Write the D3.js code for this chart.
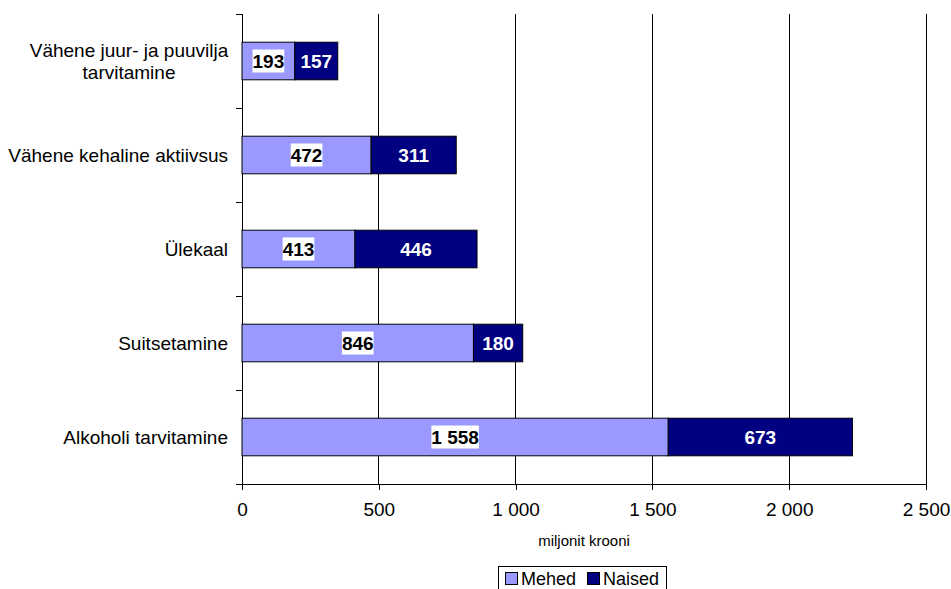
<!DOCTYPE html>
<html>
<head>
<meta charset="utf-8">
<script src="https://cdn.jsdelivr.net/npm/d3@7"></script>
<style>
  html, body { margin: 0; padding: 0; background: #fff; }
  svg { display: block; font-family: "Liberation Sans", Arial, sans-serif; }
</style>
</head>
<body>
<svg id="chart" width="951" height="589"></svg>
<script>
// Risk factors and the cost attributed to each, by sex
const categories = [
  ["Vähene juur- ja puuvilja", "tarvitamine"],
  ["Vähene kehaline aktiivsus"],
  ["Ülekaal"],
  ["Suitsetamine"],
  ["Alkoholi tarvitamine"]
];
const mehed = [193, 472, 413, 846, 1558];
const naised = [157, 311, 446, 180, 673];
const seriesNames = ["Mehed", "Naised"];
const xTicks = [0, 500, 1000, 1500, 2000, 2500];
const axisTitle = "miljonit krooni";

const colors = ["#9999FF", "#000080"];
const FS = 19;

const svg = d3.select("#chart");
const plotL = 242, plotR = 926, plotT = 14, plotB = 484;

const x = d3.scaleLinear().domain([0, 2500]).range([plotL, plotR]);
const y = d3.scaleBand().domain(d3.range(categories.length)).range([plotT, plotB]).paddingInner(0.6).paddingOuter(0.3);
const yOuter = d3.scaleBand().domain(d3.range(categories.length)).range([plotT, plotB]);

const fmt = v => d3.format(",")(v).replace(/,/g, " ");

// vertical gridlines
svg.append("g").selectAll("line")
  .data(xTicks.slice(1))
  .join("line")
  .attr("x1", d => x(d)).attr("x2", d => x(d))
  .attr("y1", plotT).attr("y2", plotB)
  .attr("stroke", "#000").attr("stroke-width", 1)
  .attr("shape-rendering", "crispEdges");

// bottom axis
const xAxis = d3.axisBottom(x).tickValues(xTicks).tickFormat(fmt).tickSizeInner(6).tickSizeOuter(0).tickPadding(13);
const gx = svg.append("g").attr("transform", `translate(0,${plotB})`).call(xAxis);
gx.attr("font-size", null).attr("font-family", null);
gx.selectAll("text").attr("font-size", FS).attr("fill", "#000");
gx.selectAll("line, path").attr("stroke", "#000").attr("shape-rendering", "crispEdges");

// left axis with ticks between categories
const yTickPos = d3.range(categories.length + 1).map(i => plotT + i * yOuter.step());
svg.append("line")
  .attr("x1", plotL).attr("x2", plotL).attr("y1", plotT).attr("y2", plotB)
  .attr("stroke", "#000").attr("shape-rendering", "crispEdges");
svg.append("g").selectAll("line")
  .data(yTickPos)
  .join("line")
  .attr("x1", plotL - 6).attr("x2", plotL)
  .attr("y1", d => d).attr("y2", d => d)
  .attr("stroke", "#000").attr("shape-rendering", "crispEdges");

// category labels
const catG = svg.append("g");
categories.forEach((lines, i) => {
  const cy = yOuter(i) + yOuter.bandwidth() / 2;
  if (lines.length === 1) {
    catG.append("text")
      .attr("x", 228).attr("y", cy).attr("dy", "0.35em")
      .attr("text-anchor", "end").attr("font-size", FS)
      .text(lines[0]);
  } else {
    const t = catG.append("text").attr("font-size", FS).attr("text-anchor", "middle");
    lines.forEach((ln, j) => {
      t.append("tspan").attr("x", 129)
        .attr("y", cy + (j - (lines.length - 1) / 2) * 22)
        .attr("dy", "0.35em").text(ln);
    });
  }
});

// stacked bars
const stacked = categories.map((c, i) => {
  const vals = [mehed[i], naised[i]];
  let acc = 0;
  return vals.map((v, k) => { const s = { i, k, v, x0: acc, x1: acc + v }; acc += v; return s; });
}).flat();

svg.append("g").selectAll("rect")
  .data(stacked)
  .join("rect")
  .attr("x", d => x(d.x0))
  .attr("y", d => y(d.i))
  .attr("width", d => x(d.x1) - x(d.x0))
  .attr("height", y.bandwidth())
  .attr("fill", d => colors[d.k])
  .attr("stroke", "#000").attr("stroke-width", 1);

// value labels
const lab = svg.append("g");
stacked.forEach(d => {
  const cx = (x(d.x0) + x(d.x1)) / 2;
  const cy = y(d.i) + y.bandwidth() / 2;
  const t = lab.append("text")
    .attr("x", cx).attr("y", cy).attr("dy", "0.36em")
    .attr("text-anchor", "middle").attr("font-size", FS).attr("font-weight", "bold")
    .attr("fill", d.k === 0 ? "#000" : "#fff")
    .text(fmt(d.v));
  if (d.k === 0) {
    const bb = t.node().getBBox();
    lab.insert("rect", () => t.node())
      .attr("x", bb.x).attr("y", cy - 11.5)
      .attr("width", bb.width).attr("height", 23)
      .attr("fill", "#fff");
  }
});

// axis title
svg.append("text")
  .attr("x", x(1250)).attr("y", 546)
  .attr("text-anchor", "middle").attr("font-size", 15)
  .text(axisTitle);

// legend
const lg = svg.append("g").attr("transform", "translate(498,566)");
lg.append("rect").attr("x", 0.5).attr("y", 0.5).attr("width", 168).attr("height", 26)
  .attr("fill", "#fff").attr("stroke", "#000");
const items = [{ name: seriesNames[0], c: colors[0], x: 7 }, { name: seriesNames[1], c: colors[1], x: 89 }];
items.forEach(it => {
  lg.append("rect").attr("x", it.x + 0.5).attr("y", 6.5).attr("width", 12).attr("height", 12)
    .attr("fill", it.c).attr("stroke", "#000");
  lg.append("text").attr("x", it.x + 16).attr("y", 13).attr("dy", "0.36em")
    .attr("font-size", 18).text(it.name);
});
</script>
</body>
</html>
